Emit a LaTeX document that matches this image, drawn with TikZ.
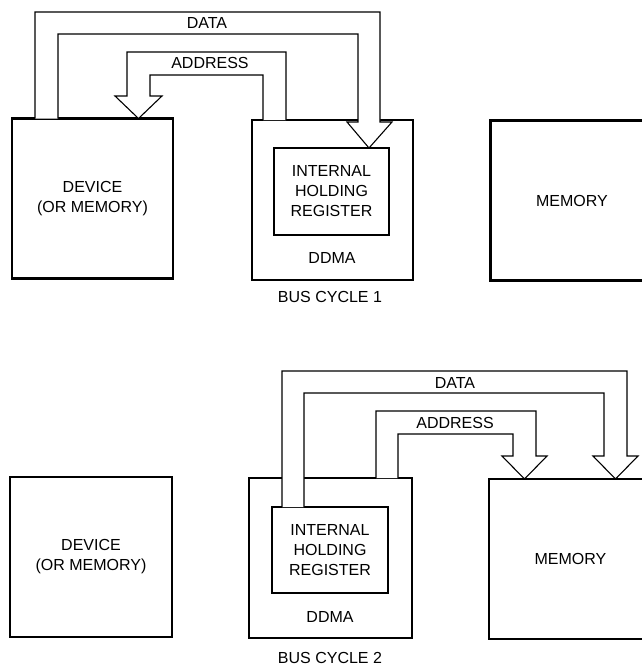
\documentclass[tikz,border=0pt]{standalone}
\usepackage{fontspec}
\setmainfont{Liberation Sans}
\usetikzlibrary{calc}
\usetikzlibrary{positioning}

\begin{document}
\begin{tikzpicture}
[
x=1pt, y=-1pt,
% text
every node/.style={inner sep=0, outer sep=0, font=\fontsize{16}{20}\selectfont, align=center},
% blocks
block/.style={rectangle, draw, line width=2.2pt, minimum width=161pt, minimum height=160pt},
% holding register
reg/.style={rectangle, draw, line width=2.2pt, minimum width=115pt, minimum height=87pt},
% wide bus arrow
bus/.style={draw, fill=white, line width=1.1pt, line join=miter}
]
\useasboundingbox (0,0) rectangle (642,669);

% bus cycle 1
\node [block] (dev1) at (92.5,198.5) {DEVICE\\(OR MEMORY)};
\node [block] (ddma1) at (332.5,200) {};
\node [reg] (reg1) at (331.5,191.5) {INTERNAL\\HOLDING\\REGISTER};
\node (lab1) at (332,258) {DDMA};
\node [block, minimum width=163pt] (mem1) at (572,200.5) {MEMORY};
\node (cyc1) at (330,297) {BUS CYCLE 1};

% data bus: device -> register
\path [bus] (35,0 |- dev1.north) -- (35,12) -- (380,12) -- (380,122) -- (392,122)
  -- (369,0 |- reg1.north) -- (347,122) -- (358,122) -- (358,34) -- (58,34)
  -- (58,0 |- dev1.north);
\node (data1) at (207,23) {DATA};
% address bus: ddma -> device
\path [bus] (286,0 |- ddma1.north) -- (286,52) -- (127,52) -- (127,96) -- (115,96)
  -- (138.5,0 |- dev1.north) -- (162,96) -- (150,96) -- (150,75) -- (263,75)
  -- (263,0 |- ddma1.north);
\node (addr1) at (210,63) {ADDRESS};

% bus cycle 2
\node [block, minimum width=162pt] (dev2) at (91,557) {DEVICE\\(OR MEMORY)};
\node [block, minimum width=163pt] (ddma2) at (330.5,558) {};
\node [reg, minimum width=116pt, minimum height=86pt] (reg2) at (330,550) {INTERNAL\\HOLDING\\REGISTER};
\node (lab2) at (330,617) {DDMA};
\node [block, minimum width=163pt] (mem2) at (570.5,559) {MEMORY};
\node (cyc2) at (330,658) {BUS CYCLE 2};

% data bus: register -> memory
\path [bus] (282,0 |- reg2.north) -- (282,371) -- (627,371) -- (627,456) -- (638,456)
  -- (615.5,0 |- mem2.north) -- (593,456) -- (604,456) -- (604,393) -- (304,393)
  -- (304,0 |- reg2.north);
\node (data2) at (455,383) {DATA};
% address bus: ddma -> memory
\path [bus] (376,0 |- ddma2.north) -- (376,411) -- (536,411) -- (536,456) -- (547,456)
  -- (524.5,0 |- mem2.north) -- (502,456) -- (513,456) -- (513,434) -- (398,434)
  -- (398,0 |- ddma2.north);
\node (addr2) at (455,423) {ADDRESS};
\end{tikzpicture}
\end{document}
